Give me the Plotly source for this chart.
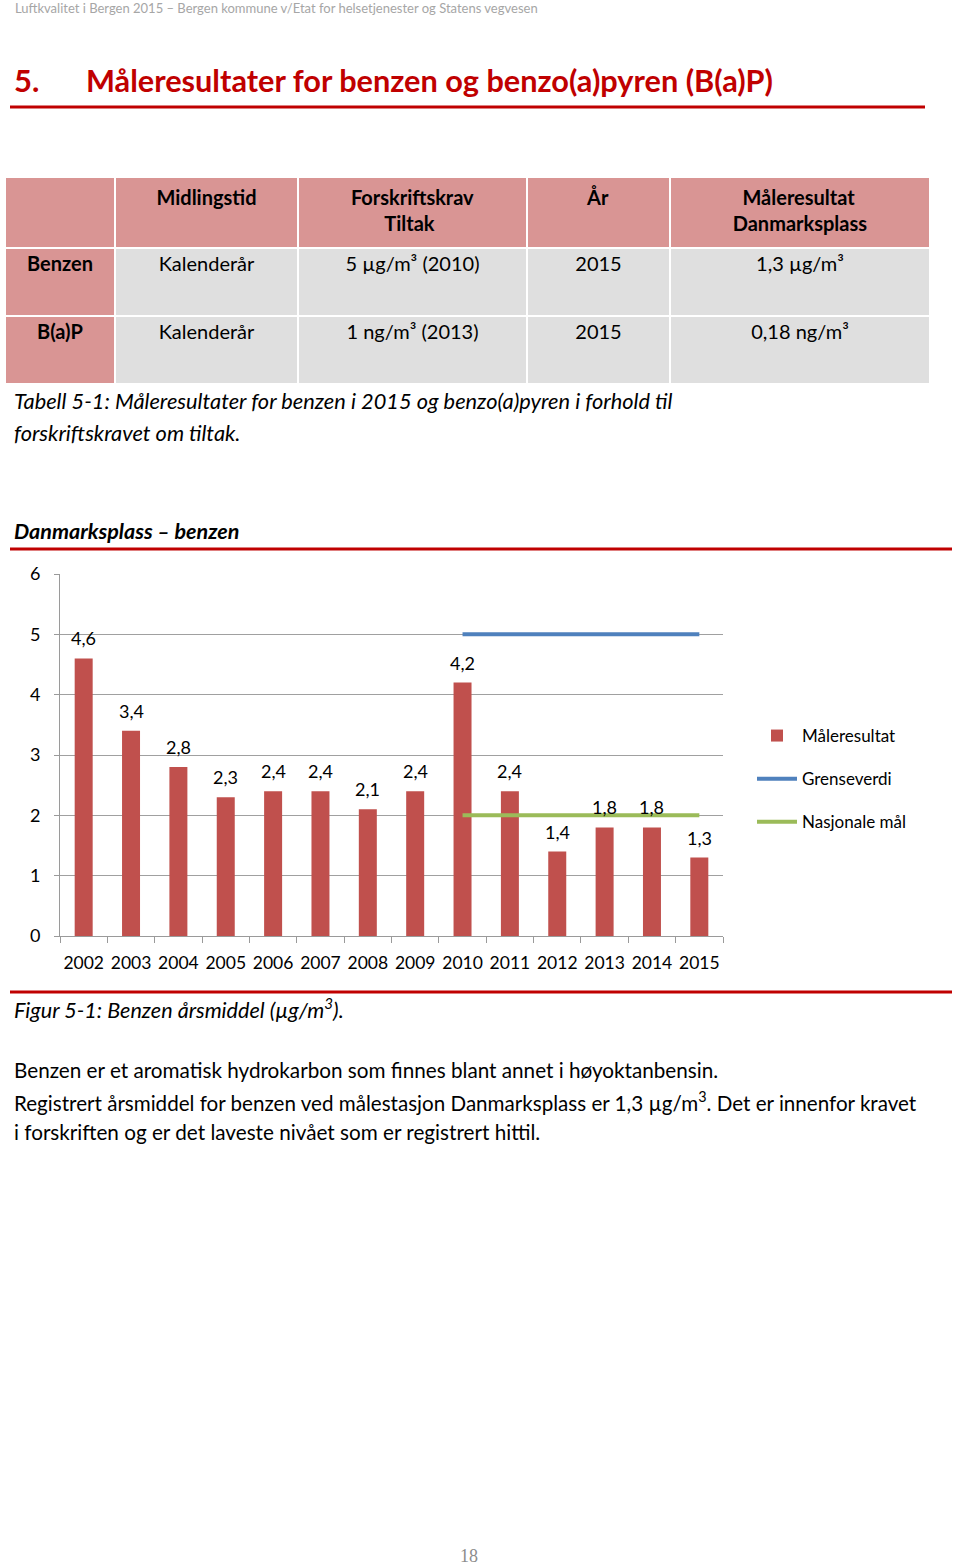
import plotly.graph_objects as go

W, H = 960, 1566
FONT = "Lato"
RED = "#C00000"
PINK = "#D99594"
GRAY = "#DFDFDF"
NB = "\u00a0"

# ---- data ----
years = ["2002", "2003", "2004", "2005", "2006", "2007", "2008", "2009",
         "2010", "2011", "2012", "2013", "2014", "2015"]
maleresultat = [4.6, 3.4, 2.8, 2.3, 2.4, 2.4, 2.1, 2.4, 4.2, 2.4, 1.4, 1.8, 1.8, 1.3]
grenseverdi = [None] * 8 + [5, 5, 5, 5, 5, 5]
nasjonale_maal = [None] * 8 + [2, 2, 2, 2, 2, 2]
y_ticks = [0, 1, 2, 3, 4, 5, 6]

table_header = [NB + "<br>" + NB,
                "Midlingstid<br>" + NB,
                "Forskriftskrav<br>" + NB * 7 + "Tiltak",
                "År<br>" + NB,
                NB * 2 + "Måleresultat<br>Danmarksplass"]
table_col_component = ["Benzen", "B(a)P"]
table_col_period = ["Kalenderår", "Kalenderår"]
table_col_requirement = ["5 µg/m³ (2010)", "1 ng/m³ (2013)"]
table_col_year = ["2015", "2015"]
table_col_result = ["1,3 µg/m³", "0,18 ng/m³"]


def px(x):
    return x / W


def py(y):
    return 1 - y / H


def fmt(v):
    return f"{v:.1f}".replace(".", ",")


fig = go.Figure()

fig.add_trace(go.Table(
    domain=dict(x=[px(5), px(930)], y=[py(385), py(177)]),
    columnwidth=[110, 183, 229, 143, 260],
    header=dict(values=table_header, fill_color=PINK,
                line=dict(color="white", width=2), height=71,
                align="center", font=dict(family=FONT, size=20, color="black", weight=700)),
    cells=dict(values=[table_col_component, table_col_period, table_col_requirement,
                       table_col_year, table_col_result],
               fill_color=[[PINK] * 2, [GRAY] * 2, [GRAY] * 2, [GRAY] * 2, [GRAY] * 2],
               line=dict(color="white", width=2), height=68,
               align="center",
               font=dict(family=FONT, size=20, color="black",
                         weight=[700, 400, 400, 400, 400])),
))

fig.add_trace(go.Bar(x=years, y=maleresultat, name="Måleresultat",
                     marker=dict(color="#C0504D"), width=0.38,
                     legendgroup="a"))
fig.add_trace(go.Scatter(x=years, y=grenseverdi, name="Grenseverdi", mode="lines",
                         line=dict(color="#4F81BD", width=4), legendgroup="b"))
fig.add_trace(go.Scatter(x=years, y=nasjonale_maal, name="Nasjonale mål", mode="lines",
                         line=dict(color="#9BBB59", width=4), legendgroup="c"))

annotations = []
for i, v in enumerate(maleresultat):
    annotations.append(dict(x=i, y=v, xref="x", yref="y", text=fmt(v),
                            showarrow=False, yshift=20, yanchor="middle",
                            font=dict(family=FONT, size=18, color="black")))


def txt(x, y, text, size, color="black", family=FONT, xanchor="left"):
    annotations.append(dict(x=px(x), y=py(y), xref="paper", yref="paper",
                            text=text, showarrow=False, xanchor=xanchor,
                            yanchor="middle", font=dict(family=family, size=size, color=color)))


txt(13, 8, "Luftkvalitet i Bergen 2015 – Bergen kommune v/Etat for helsetjenester og Statens vegvesen",
    13, color="#A6A6A6")
txt(12, 80, "<b>5.</b>", 31, color=RED)
txt(84, 80, "<b>Måleresultater for benzen og benzo(a)pyren (B(a)P)</b>", 30.7, color=RED)
txt(12, 401, "<i>Tabell 5-1: Måleresultater for benzen i 2015 og benzo(a)pyren i forhold til</i>", 21.8)
txt(12, 432, "<i>forskriftskravet om tiltak.</i>", 21.8)
txt(12, 531, "<b><i>Danmarksplass – benzen</i></b>", 21.5)
txt(12, 1008, "<i>Figur 5-1: Benzen årsmiddel (µg/m<sup>3</sup>).</i>", 21.6)
txt(12, 1070, "Benzen er et aromatisk hydrokarbon som finnes blant annet i høyoktanbensin.", 20.7)
txt(12, 1101, "Registrert årsmiddel for benzen ved målestasjon Danmarksplass er 1,3 µg/m<sup>3</sup>. Det er innenfor kravet", 20.6)
txt(12, 1132, "i forskriften og er det laveste nivået som er registrert hittil.", 20.7)
txt(469, 1556, "18", 18, color="#8C8C8C", family="Liberation Serif", xanchor="center")

shapes = [
    dict(type="line", xref="paper", yref="paper", x0=px(10), x1=px(925), y0=py(107), y1=py(107),
         line=dict(color=RED, width=3)),
    dict(type="line", xref="paper", yref="paper", x0=px(10), x1=px(952), y0=py(549), y1=py(549),
         line=dict(color=RED, width=3)),
    dict(type="line", xref="paper", yref="paper", x0=px(10), x1=px(952), y0=py(992), y1=py(992),
         line=dict(color=RED, width=3)),
]

fig.update_layout(
    template="none",
    width=W, height=H, margin=dict(l=0, r=0, t=0, b=0, pad=0, autoexpand=False),
    autosize=False,
    paper_bgcolor="white", plot_bgcolor="white",
    font=dict(family=FONT, color="black"),
    separators=", ",
    annotations=annotations, shapes=shapes,
    showlegend=True,
    legend=dict(x=px(752), y=py(779), xanchor="left", yanchor="middle",
                font=dict(family=FONT, size=17, color="black"),
                tracegroupgap=18, bgcolor="rgba(0,0,0,0)", borderwidth=0, itemwidth=40),
    xaxis=dict(domain=[px(60), px(723)], type="category", range=[-0.5, 13.5],
               automargin=False,
               showline=True, linecolor="#9A9A9A", linewidth=1,
               ticks="outside", tickson="boundaries", ticklen=6, tickcolor="#9A9A9A",
               showgrid=False, tickangle=0,
               tickfont=dict(family=FONT, size=17.5, color="black"),
               ticklabelstandoff=11, fixedrange=True),
    yaxis=dict(domain=[py(936), py(574)], range=[0, 6], tickvals=y_ticks,
               automargin=False,
               showgrid=True, gridcolor="#A0A0A0", gridwidth=1,
               showline=True, linecolor="#9A9A9A", linewidth=1,
               ticks="outside", ticklen=5, tickcolor="#9A9A9A", zeroline=False,
               tickfont=dict(family=FONT, size=18, color="black"),
               ticklabelstandoff=10, fixedrange=True),
)

fig.write_html("out.html", config={"displayModeBar": False},
               post_script="document.body.style.margin='0';document.body.style.padding='0';")
